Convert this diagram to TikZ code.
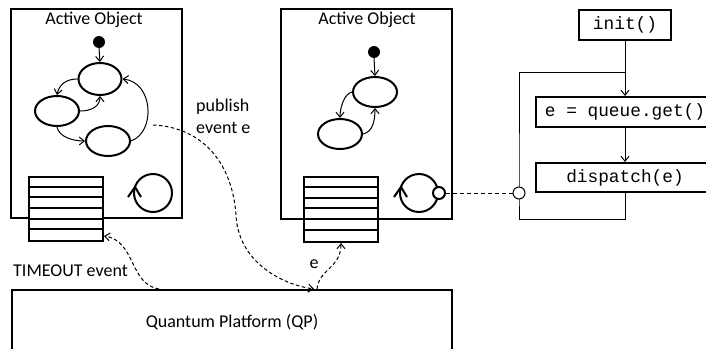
\documentclass[tikz,border=0pt]{standalone}
\usepackage{fontspec}
\setmainfont{Carlito}
\newfontfamily\monofont{Liberation Mono}
\usetikzlibrary{arrows.meta,shapes.geometric,calc}
\begin{document}
\begin{tikzpicture}[x=1pt,y=-1pt,
  box/.style={draw, line width=2pt, rectangle, inner sep=0pt},
  st/.style={draw, ellipse, line width=2pt, inner sep=0pt, minimum width=44pt, minimum height=30pt},
  blob/.style={circle, fill=black, inner sep=0pt, minimum size=12pt},
  tr/.style={line width=1pt, -{Straight Barb[length=5pt,width=8pt]}},
  dsh/.style={line width=1pt, dash pattern=on 3.5pt off 2.5pt, -{Straight Barb[length=5pt,width=8pt]}},
  lbl/.style={font=\fontsize{18}{22}\selectfont, inner sep=0pt},
  code/.style={draw, line width=2pt, font=\monofont\fontsize{17.8}{20}\selectfont, inner sep=0pt, minimum height=30pt},
  loopc/.style={draw, circle, line width=2pt, minimum size=38pt, inner sep=0pt},
  port/.style={draw, circle, fill=white, inner sep=0pt, minimum size=12pt}
]
\useasboundingbox (0,0) rectangle (706,348);

% Active object boxes
\node[box, minimum width=171pt, minimum height=209pt] (ao1) at (96.5,113.5) {};
\node[box, minimum width=171pt, minimum height=210pt] (ao2) at (366.5,114) {};
\node[lbl] (title1) at (94,20) {Active Object};
\node[lbl] (title2) at (367,20) {Active Object};

% state machine 1
\node[blob] (dot1) at (99,42) {};
\node[st, minimum width=43pt, minimum height=32pt] (s1t) at (100,79) {};
\node[st] (s1l) at (57,111) {};
\node[st] (s1b) at (108,141) {};
\draw[tr] (dot1.south) -- (s1t.north);
\draw[tr] (s1t.west) .. controls +(-12,0) and +(2,-10) .. (s1l.north);
\draw[tr] (s1l.east) .. controls +(12,0) and +(0,10) .. (s1t.south);
\draw[tr] (s1l.south) .. controls +(2,10) and +(-12,0) .. (s1b.west);
\draw[tr] (s1b.east) .. controls +(25,-9) and +(31,3) .. (s1t.east);

% state machine 2
\node[blob] (dot2) at (374,52) {};
\node[st] (s2t) at (375,92) {};
\node[st] (s2l) at (340,134) {};
\draw[tr] (dot2.south) -- (s2t.north);
\draw[tr] (s2t.west) .. controls +(-8,2) and +(0,-10) .. (s2l.north);
\draw[tr] (s2l.east) .. controls +(10,-2) and +(0,12) .. (s2t.south);

% queues
\node[box, fill=white, minimum width=74pt, minimum height=64pt] (q1) at (66,209) {};
\node[box, fill=white, minimum width=74pt, minimum height=65pt] (q2) at (341,209.5) {};
\foreach \k in {1,...,5} {
  \draw[line width=2pt] ($(q1.north west)+(0,\k*10.67)$) -- ($(q1.north east)+(0,\k*10.67)$);
  \draw[line width=2pt] ($(q2.north west)+(0,\k*10.83)$) -- ($(q2.north east)+(0,\k*10.83)$);
}

% event loops
\node[loopc] (loop1) at (153,193) {};
\draw[line width=2pt] ($(loop1.west)+(-5,4)$) -- ($(loop1.west)+(2,-6)$) -- ($(loop1.west)+(8,4)$);
\node[loopc] (loop2) at (419,193) {};
\draw[line width=2pt] ($(loop2.west)+(-5,4)$) -- ($(loop2.west)+(2,-6)$) -- ($(loop2.west)+(8,4)$);
\node[port, line width=2pt] (p2) at (loop2.east) {};

% right flow
\node[code, minimum width=92pt] (init) at (625,25) {init()};
\node[code, minimum width=178pt] (qget) at (625,112) {e = queue.get()};
\node[code, minimum width=178pt, minimum height=29pt] (disp) at (625,177.5) {dispatch(e)};
\draw[tr] (init.south) -- (qget.north);
\draw[tr] (qget.south) -- (disp.north);
\draw[line width=1pt] (disp.south) -- ++(0,26) -| (519,193) |- (625,72);
\node[port, line width=1pt] (lc) at (519,193) {};
\draw[line width=1pt, dash pattern=on 4pt off 3pt] (p2) -- (lc);

% Quantum platform
\node[box, minimum width=440pt, minimum height=64pt, font=\fontsize{18}{22}\selectfont] (qp) at (232,322) {Quantum Platform (QP)};

% labels
\node[lbl, align=left, anchor=west] (pub) at (196,116) {publish\\event e};
\node[lbl, anchor=west] (tmo) at (13,271) {TIMEOUT event};
\node[lbl] (elbl) at (314,264) {e};

% dashed event flows
\coordinate (pubs) at (153,125);
\coordinate (pubmid) at (236,215);
\draw[dsh] (pubs) .. controls +(47,2) and +(-4,-55) .. (pubmid) .. controls +(2,45) and +(-35,-5) .. ($(qp.north west)+(303,0)$);
\draw[dsh] ($(qp.north west)+(306,0)$) .. controls +(2,-20) and +(0,25) .. (q2.south);
\draw[dsh] ($(qp.north west)+(148,0)$) .. controls +(-30,-5) and +(32,5) .. ($(q1.south east)+(0,-6)$);
\end{tikzpicture}
\end{document}
